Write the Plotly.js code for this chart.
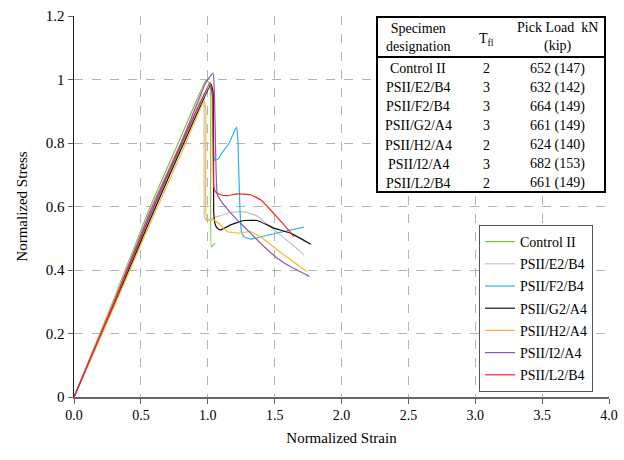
<!DOCTYPE html>
<html>
<head>
<meta charset="utf-8">
<script src="https://cdn.plot.ly/plotly-3.0.1.min.js"></script>
<style>html,body{margin:0;padding:0;background:#fff;}#chart{width:624px;height:460px;}</style>
</head>
<body>
<div id="chart"></div>
<script>
// ---- data ----
var seriesNames = ["Control II", "PSII/E2/B4", "PSII/F2/B4", "PSII/G2/A4", "PSII/H2/A4", "PSII/I2/A4", "PSII/L2/B4"];

var controlStrain = [0, 0.3, 0.57, 0.8, 0.987, 1.01, 1.022, 1.026, 1.04, 1.054];
var controlStress = [0, 0.31, 0.60, 0.82, 0.997, 0.99, 0.96, 0.473, 0.478, 0.485];

var e2Strain = [0, 0.3, 0.57, 0.8, 0.962, 0.972, 0.976, 0.99, 1.07, 1.17, 1.27, 1.37, 1.495, 1.62, 1.72];
var e2Stress = [0, 0.305, 0.59, 0.80, 0.955, 0.93, 0.565, 0.557, 0.568, 0.581, 0.584, 0.57, 0.526, 0.484, 0.447];

var f2Strain = [0, 0.3, 0.57, 0.8, 1.015, 1.035, 1.05, 1.08, 1.1, 1.16, 1.216, 1.226, 1.24, 1.252, 1.27, 1.32, 1.5, 1.72];
var f2Stress = [0, 0.295, 0.57, 0.79, 0.984, 0.95, 0.746, 0.75, 0.765, 0.80, 0.851, 0.80, 0.60, 0.52, 0.505, 0.497, 0.515, 0.535];

var g2Strain = [0, 0.3, 0.57, 0.8, 1.025, 1.04, 1.045, 1.055, 1.07, 1.095, 1.17, 1.27, 1.37, 1.495, 1.62, 1.77];
var g2Stress = [0, 0.29, 0.56, 0.78, 0.985, 0.96, 0.58, 0.545, 0.532, 0.526, 0.542, 0.556, 0.556, 0.532, 0.516, 0.481];

var h2Strain = [0, 0.3, 0.57, 0.8, 0.972, 0.986, 0.992, 1.045, 1.095, 1.145, 1.22, 1.32, 1.395, 1.52, 1.62, 1.74];
var h2Stress = [0, 0.285, 0.547, 0.765, 0.93, 0.90, 0.557, 0.558, 0.542, 0.521, 0.516, 0.521, 0.505, 0.463, 0.432, 0.395];

var i2Strain = [0, 0.3, 0.57, 0.8, 0.98, 1.01, 1.04, 1.05, 1.06, 1.07, 1.095, 1.15, 1.22, 1.32, 1.42, 1.52, 1.62, 1.76];
var i2Stress = [0, 0.30, 0.585, 0.80, 0.985, 1.005, 1.02, 0.96, 0.75, 0.64, 0.62, 0.59, 0.558, 0.516, 0.474, 0.437, 0.41, 0.38];

var l2Strain = [0, 0.3, 0.57, 0.8, 1.017, 1.035, 1.045, 1.06, 1.095, 1.145, 1.22, 1.32, 1.395, 1.47, 1.57, 1.645];
var l2Stress = [0, 0.297, 0.575, 0.795, 0.99, 0.95, 0.66, 0.645, 0.637, 0.634, 0.64, 0.637, 0.621, 0.589, 0.542, 0.505];

var seriesColors = ["#7dc242", "#c4c4c4", "#2ab4ea", "#111111", "#f7b928", "#8a5bb8", "#ff2020"];

// table content
var tableHeaders = ["Specimen<br>designation", "T<sub>fl</sub>", "Pick Load  kN<br>(kip)"];
var tableDesignations = ["Control II", "PSII/E2/B4", "PSII/F2/B4", "PSII/G2/A4", "PSII/H2/A4", "PSII/I2/A4", "PSII/L2/B4"];
var tableTfl = ["2", "3", "3", "3", "2", "3", "2"];
var tableLoads = ["652 (147)", "632 (142)", "664 (149)", "661 (149)", "624 (140)", "682 (153)", "661 (149)"];

var xTicks = [0, 0.5, 1, 1.5, 2, 2.5, 3, 3.5, 4];
var yTicks = [0, 0.2, 0.4, 0.6, 0.8, 1, 1.2];

// ---- build ----
var strains = [controlStrain, e2Strain, f2Strain, g2Strain, h2Strain, i2Strain, l2Strain];
var stresses = [controlStress, e2Stress, f2Stress, g2Stress, h2Stress, i2Stress, l2Stress];

var traces = seriesNames.map(function (n, i) {
  return {
    x: strains[i], y: stresses[i], name: n, mode: "lines", type: "scatter",
    legendgroup: "g" + i,
    line: {color: seriesColors[i], width: 1.2, shape: "spline", smoothing: 0.3}
  };
});

var serif = "Liberation Serif, Times New Roman, serif";
// plot area geometry (px) for placing the table
var L = 74, R = 609, T = 16, B = 397;
function px2x(p) { return (p - L) / (R - L); }
function py2y(p) { return (B - p) / (B - T); }

var annotations = [];
var colX = [418, 486, 557];
var tf = {family: serif, size: 14, color: "#000"};
annotations.push({xref: "paper", yref: "paper", x: px2x(colX[0]), y: py2y(38), text: tableHeaders[0], showarrow: false, font: tf, xanchor: "center", yanchor: "middle"});
annotations.push({xref: "paper", yref: "paper", x: px2x(colX[1]), y: py2y(39), text: tableHeaders[1], showarrow: false, font: tf, xanchor: "center", yanchor: "middle"});
annotations.push({xref: "paper", yref: "paper", x: px2x(colX[2]), y: py2y(37), text: tableHeaders[2], showarrow: false, font: tf, xanchor: "center", yanchor: "middle"});
for (var r = 0; r < tableDesignations.length; r++) {
  var yy = py2y(68.5 + r * 19.15);
  annotations.push({xref: "paper", yref: "paper", x: px2x(colX[0]), y: yy, text: tableDesignations[r], showarrow: false, font: tf, xanchor: "center", yanchor: "middle"});
  annotations.push({xref: "paper", yref: "paper", x: px2x(colX[1]), y: yy, text: tableTfl[r], showarrow: false, font: tf, xanchor: "center", yanchor: "middle"});
  annotations.push({xref: "paper", yref: "paper", x: px2x(colX[2]), y: yy, text: tableLoads[r], showarrow: false, font: tf, xanchor: "center", yanchor: "middle"});
}

var shapes = [
  {type: "rect", xref: "paper", yref: "paper", x0: px2x(377), x1: px2x(605), y0: py2y(192), y1: py2y(17), fillcolor: "#fff", line: {color: "#000", width: 2}, layer: "above"},
  {type: "line", xref: "paper", yref: "paper", x0: px2x(377), x1: px2x(605), y0: py2y(57), y1: py2y(57), line: {color: "#000", width: 2}, layer: "above"}
];

var layout = {
  width: 624, height: 460,
  margin: {l: L, r: 624 - R, t: T, b: 460 - B, pad: 0},
  paper_bgcolor: "#fff", plot_bgcolor: "#fff",
  font: {family: serif, size: 14, color: "#000"},
  xaxis: {
    range: [0, 4], tickvals: xTicks, tickformat: ".1f",
    showgrid: true, gridcolor: "#b4b4b4", griddash: "dash", gridwidth: 1,
    zeroline: false, showline: true, linecolor: "#666", linewidth: 1.5,
    ticks: "outside", ticklen: 5, tickcolor: "#666",
    tickfont: {family: serif, size: 14},
    title: {text: "Normalized Strain", font: {family: serif, size: 15}, standoff: 10}
  },
  yaxis: {
    range: [0, 1.2], tickvals: yTicks,
    showgrid: true, gridcolor: "#b4b4b4", griddash: "dash", gridwidth: 1,
    zeroline: false, showline: true, linecolor: "#222", linewidth: 1.5,
    ticks: "outside", ticklen: 5, tickcolor: "#666",
    tickfont: {family: serif, size: 15},
    title: {text: "Normalized Stress", font: {family: serif, size: 15}, standoff: 14}
  },
  showlegend: true,
  legend: {
    x: px2x(479), y: py2y(225), xanchor: "left", yanchor: "top",
    bgcolor: "#fff", bordercolor: "#555", borderwidth: 1,
    font: {family: serif, size: 14, color: "#000"},
    tracegroupgap: 1, itemwidth: 30
  },
  shapes: shapes,
  annotations: annotations
};

Plotly.newPlot("chart", traces, layout, {displayModeBar: false, staticPlot: true});
</script>
</body>
</html>
